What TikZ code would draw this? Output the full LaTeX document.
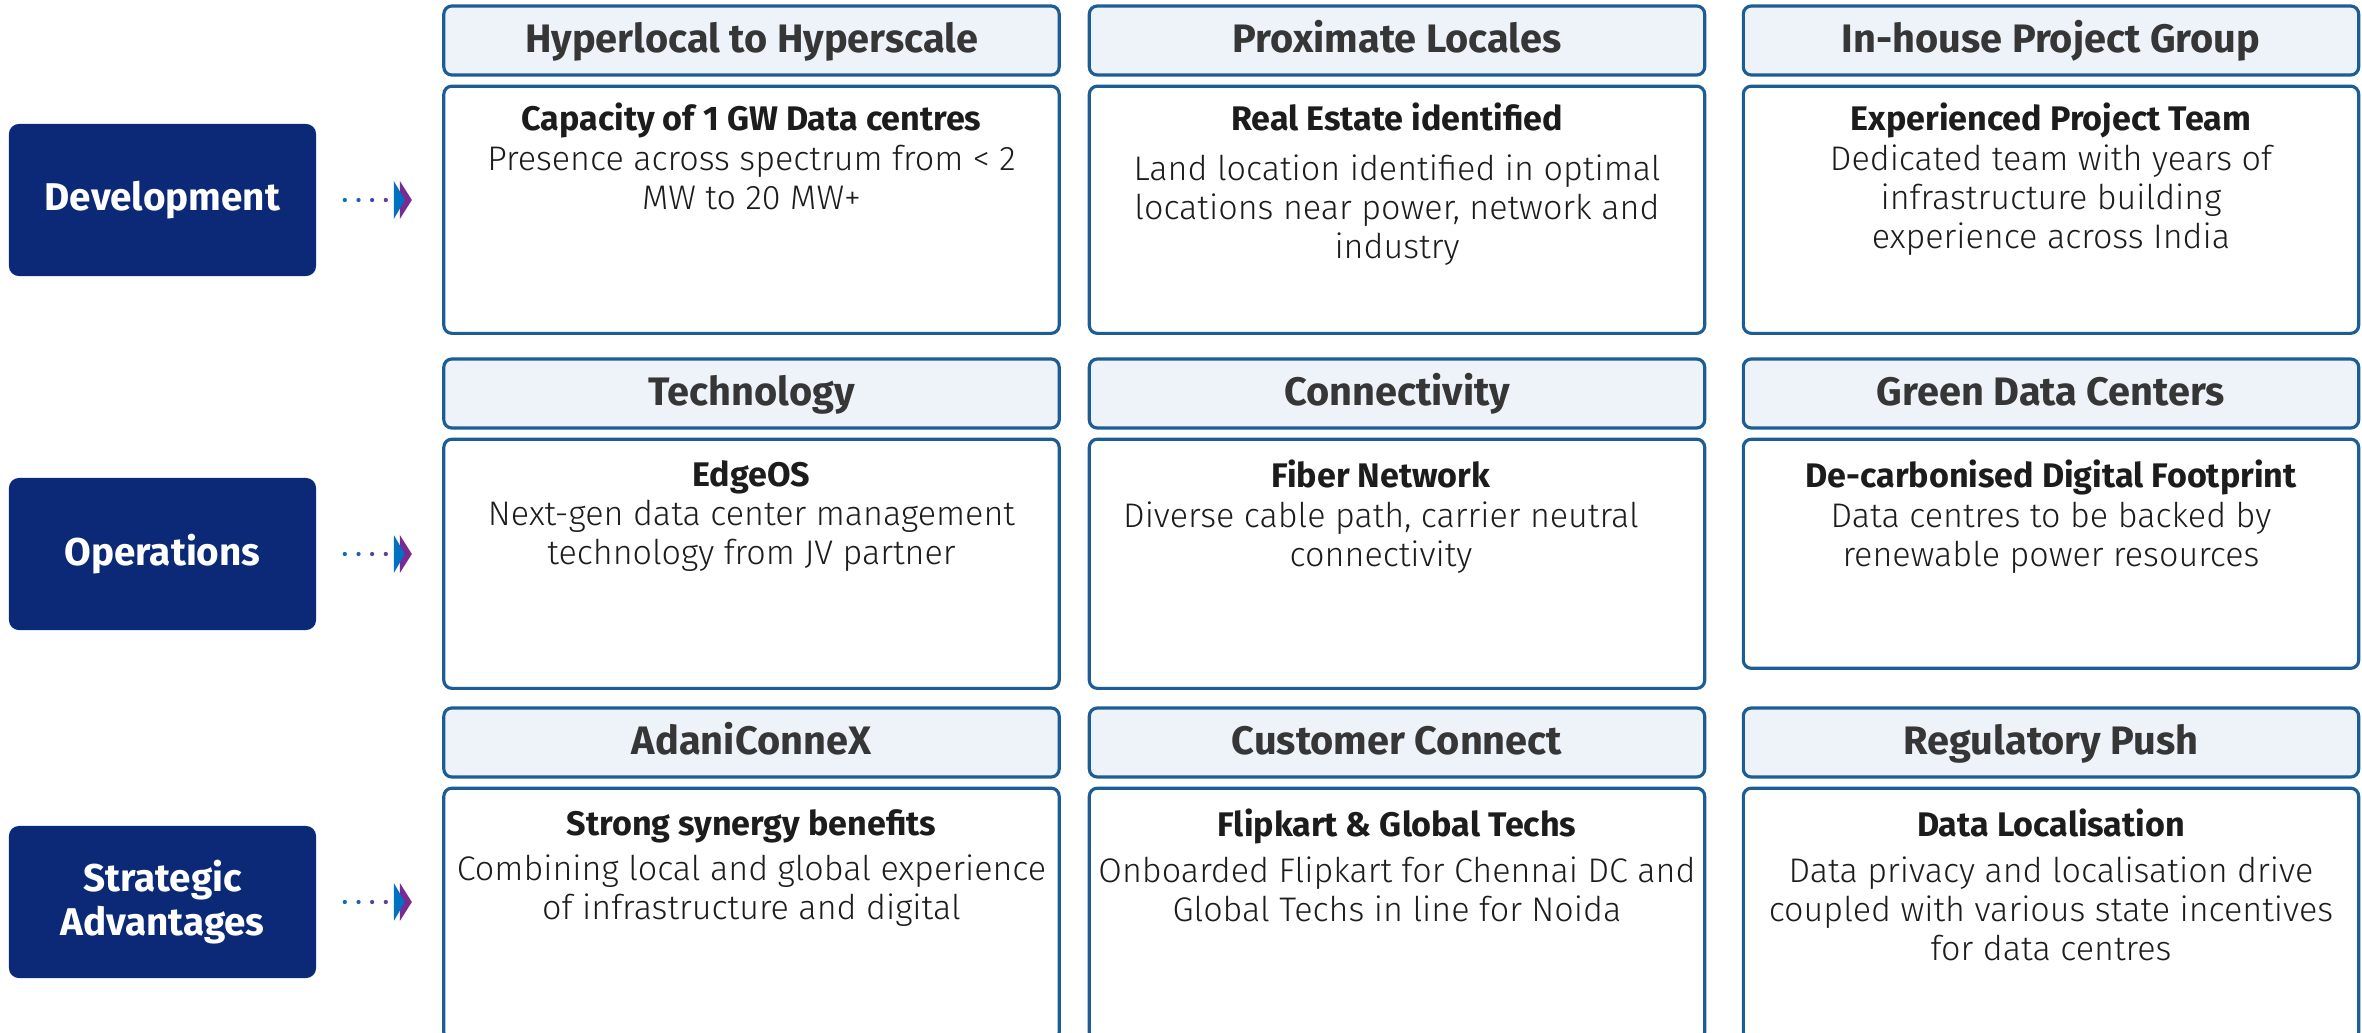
\documentclass[tikz,border=0pt]{standalone}
\usepackage{fontspec}
\setmainfont{Fira Sans}
\IfFontExistsTF{Fira Sans Light}
    {\newfontfamily\bodyfont{Fira Sans Light}[BoldFont={Fira Sans Bold}]}
    {\newfontfamily\bodyfont{Fira Sans}}
\usetikzlibrary{positioning}
\definecolor{pillarnavy}{HTML}{0B2976}
\definecolor{frameblue}{HTML}{1D5D96}
\definecolor{headfill}{HTML}{EEF2F9}
\definecolor{headink}{HTML}{363636}
\definecolor{bodyink}{HTML}{1C1C1C}
\definecolor{arrowblue}{HTML}{0070C0}
\definecolor{arrowpurple}{HTML}{7A2A92}

\begin{document}
\begin{tikzpicture}[
        x=0.01cm, y=-0.01cm,
        node distance=0.08cm,
        pillar/.style={
            fill=pillarnavy,
            rounded corners=0.1cm,
            minimum width=3.07cm,
            minimum height=1.52cm,
            align=center,
            text=white,
            font=\fontsize{11}{12.4}\selectfont\bfseries
        },
        headbox/.style={
            draw=frameblue,
            line width=0.9pt,
            fill=headfill,
            rounded corners=0.08cm,
            minimum width=6.15cm,
            minimum height=0.69cm,
            text height=0.8em,
            text depth=0.1em,
            text=headink,
            font=\fontsize{11.3}{12}\selectfont\bfseries
        },
        bodybox/.style={
            draw=frameblue,
            line width=0.9pt,
            rounded corners=0.08cm,
            minimum width=6.15cm,
            minimum height=2.47cm
        },
        bodytext/.style={
            align=center,
            inner sep=0pt,
            below=0.18cm,
            text=bodyink,
            font=\bodyfont\fontsize{9.7}{11.1}\selectfont
        }
    ]
        \useasboundingbox (0,0) rectangle (2362,1033);

        % pillars on the left
        \node[pillar] (development) at (162.5,200) {Development};
        \node[pillar] (operations) at (162.5,554) {Operations};
        \node[pillar] (strategic) at (162.5,902) {Strategic\\Advantages};

        % dotted pointers with double chevron
        \foreach \pillarname in {development, operations, strategic} {
            \foreach \dotx/\mix in {0.28/95, 0.417/70, 0.553/45, 0.69/20}
                \fill[arrowblue!\mix!arrowpurple] ([xshift=\dotx cm]\pillarname.east) circle (0.6pt);
            \fill[arrowpurple]
                ([xshift=0.83cm, yshift=0.19cm]\pillarname.east)
                -- ([xshift=0.95cm]\pillarname.east)
                -- ([xshift=0.83cm, yshift=-0.19cm]\pillarname.east) -- cycle;
            \fill[arrowblue]
                ([xshift=0.77cm, yshift=0.19cm]\pillarname.east)
                -- ([xshift=0.88cm]\pillarname.east)
                -- ([xshift=0.77cm, yshift=-0.19cm]\pillarname.east) -- cycle;
        }

        % development row
        \node[headbox] (hyperlocal) at (751.5,40.5) {Hyperlocal to Hyperscale};
        \node[headbox] (proximate) at (1397,40.5) {Proximate Locales};
        \node[headbox] (inhouse) at (2051,40.5) {In-house Project Group};
        \node[bodybox, below=of hyperlocal] (capacity) {};
        \node[bodybox, below=of proximate] (realestate) {};
        \node[bodybox, below=of inhouse] (projectteam) {};
        \node[bodytext] at (capacity.north)
            {{\bfseries Capacity of 1 GW Data centres}\\
             Presence across spectrum from < 2\\MW to 20 MW+};
        \node[bodytext] at (realestate.north)
            {{\bfseries Real Estate identified}\\[0.1cm]
             Land location identified in optimal\\locations near power, network and\\industry};
        \node[bodytext] at (projectteam.north)
            {{\bfseries Experienced Project Team}\\
             Dedicated team with years of\\infrastructure building\\experience across India};

        % operations row
        \node[headbox] (technology) at (751.5,393.5) {Technology};
        \node[headbox] (connectivity) at (1397,393.5) {Connectivity};
        \node[headbox] (green) at (2051,393.5) {Green Data Centers};
        \node[bodybox, below=of technology, minimum height=2.49cm] (edgeos) {};
        \node[bodybox, below=of connectivity, minimum height=2.49cm] (fiber) {};
        \node[bodybox, below=of green, minimum height=2.29cm] (decarbon) {};
        \node[bodytext, below=0.22cm] at (edgeos.north)
            {{\bfseries EdgeOS}\\
             Next-gen data center management\\technology from JV partner};
        \node[bodytext, below=0.22cm, xshift=-0.16cm] at (fiber.north)
            {{\bfseries Fiber Network}\\
             Diverse cable path, carrier neutral\\connectivity};
        \node[bodytext, below=0.22cm] at (decarbon.north)
            {{\bfseries De-carbonised Digital Footprint}\\
             Data centres to be backed by\\renewable power resources};

        % strategic row
        \node[headbox] (adani) at (751.5,742.5) {AdaniConneX};
        \node[headbox] (customer) at (1397,742.5) {Customer Connect};
        \node[headbox] (regulatory) at (2051,742.5) {Regulatory Push};
        \node[bodybox, below=of adani, minimum height=2.52cm] (synergy) {};
        \node[bodybox, below=of customer, minimum height=2.52cm] (flipkart) {};
        \node[bodybox, below=of regulatory, minimum height=2.52cm] (localisation) {};
        \node[bodytext, below=0.22cm] at (synergy.north)
            {{\bfseries Strong synergy benefits}\\[0.06cm]
             Combining local and global experience\\of infrastructure and digital};
        \node[bodytext, below=0.22cm] at (flipkart.north)
            {{\bfseries Flipkart \& Global Techs}\\[0.06cm]
             Onboarded Flipkart for Chennai DC and\\Global Techs in line for Noida};
        \node[bodytext, below=0.22cm] at (localisation.north)
            {{\bfseries Data Localisation}\\[0.06cm]
             Data privacy and localisation drive\\coupled with various state incentives\\for data centres};
    \end{tikzpicture}
\end{document}
